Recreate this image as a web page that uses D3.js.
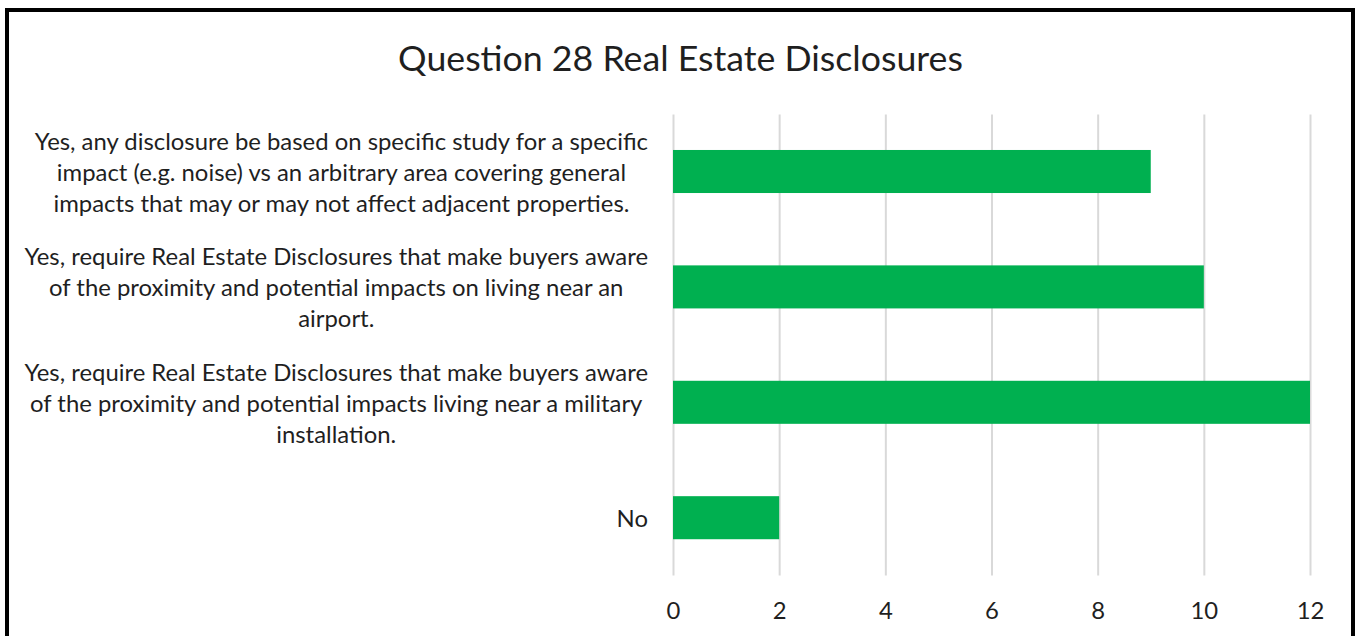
<!DOCTYPE html>
<html>
<head>
<meta charset="utf-8">
<script src="https://cdn.jsdelivr.net/npm/d3@7"></script>
<style>
  html, body { margin: 0; padding: 0; background: #fff; }
  svg { display: block; }
</style>
</head>
<body>
<svg id="chart" width="1355" height="636"></svg>
<script>
// Survey responses, listed top to bottom
const categories = [
  "Yes, any disclosure be based on specific study for a specific impact (e.g. noise) vs an arbitrary area covering general impacts that may or may not affect adjacent properties.",
  "Yes, require Real Estate Disclosures that make buyers aware of the proximity and potential impacts on living near an airport.",
  "Yes, require Real Estate Disclosures that make buyers aware of the proximity and potential impacts living near a military installation.",
  "No"
];
const categoryLines = [
  ["Yes, any disclosure be based on specific study for a specific",
   "impact (e.g. noise) vs an arbitrary area covering general",
   "impacts that may or may not affect adjacent properties."],
  ["Yes, require Real Estate Disclosures that make buyers aware",
   "of the proximity and potential impacts on living near an",
   "airport."],
  ["Yes, require Real Estate Disclosures that make buyers aware",
   "of the proximity and potential impacts living near a military",
   "installation."],
  ["No"]
];
const counts = [9, 10, 12, 2];
const tickValues = [0, 2, 4, 6, 8, 10, 12];
const title = "Question 28 Real Estate Disclosures";

const svg = d3.select("#chart");
const FONT = "Lato, 'Open Sans', sans-serif";
const TEXT = "#1f1f1f";

// outer frame
svg.append("rect").attr("x", 0).attr("y", 0).attr("width", 1355).attr("height", 636).attr("fill", "#fff");
svg.append("rect")
  .attr("x", 7).attr("y", 10).attr("width", 1346).attr("height", 720)
  .attr("fill", "none").attr("stroke", "#000").attr("stroke-width", 4);

// size text to a target width
function fitSize(str, base, target, weight) {
  const t = svg.append("text").attr("font-family", FONT).attr("font-size", base)
    .attr("font-weight", weight || 400).text(str);
  const w = t.node().getComputedTextLength();
  t.remove();
  return base * target / w;
}
const labelSize = fitSize(categoryLines[1][0], 20, 624);
const titleSize = fitSize(title, 30, 565);

const x = d3.scaleLinear().domain([0, 12]).range([673, 1310]);
const y = d3.scaleBand().domain(categories).range([113.8, 575.4])
  .paddingInner(0.627).paddingOuter(0.3135);

// title
svg.append("text")
  .attr("x", 680.5).attr("y", 57)
  .attr("text-anchor", "middle").attr("dominant-baseline", "central")
  .attr("font-family", FONT).attr("font-size", titleSize).attr("fill", TEXT)
  .text(title);

// vertical gridlines + tick labels
const axis = d3.axisBottom(x).tickValues(tickValues).tickSize(-(575.4 - 114.5)).tickPadding(0).tickFormat(d3.format("d"));
const gAxis = svg.append("g").attr("transform", "translate(0,575.4)").call(axis);
gAxis.select(".domain").remove();
gAxis.selectAll(".tick line").attr("stroke", "#d9d9d9").attr("stroke-width", 2);
gAxis.selectAll(".tick text")
  .attr("y", 34).attr("dy", null).attr("dominant-baseline", "central")
  .attr("font-family", FONT).attr("font-size", labelSize).attr("fill", TEXT);

// bars
svg.append("g").selectAll("rect").data(counts).join("rect")
  .attr("x", x(0))
  .attr("y", (d, i) => y(categories[i]))
  .attr("width", d => x(d) - x(0))
  .attr("height", y.bandwidth())
  .attr("fill", "#00b050");

// category labels: wrapped lines centred within a block that ends at the axis
const lineH = 31;
const labelRight = 648;
const gLab = svg.append("g").attr("font-family", FONT).attr("font-size", labelSize).attr("fill", TEXT);
categoryLines.forEach((lines, i) => {
  const cy = y(categories[i]) + y.bandwidth() / 2;
  const tmp = lines.map(s => {
    const t = gLab.append("text").text(s);
    const w = t.node().getComputedTextLength();
    t.remove();
    return w;
  });
  const maxW = d3.max(tmp);
  const cx = labelRight - maxW / 2;
  const n = lines.length;
  lines.forEach((s, j) => {
    gLab.append("text")
      .attr("x", cx)
      .attr("y", cy + (j - (n - 1) / 2) * lineH)
      .attr("text-anchor", "middle").attr("dominant-baseline", "central")
      .text(s);
  });
});
</script>
</body>
</html>
